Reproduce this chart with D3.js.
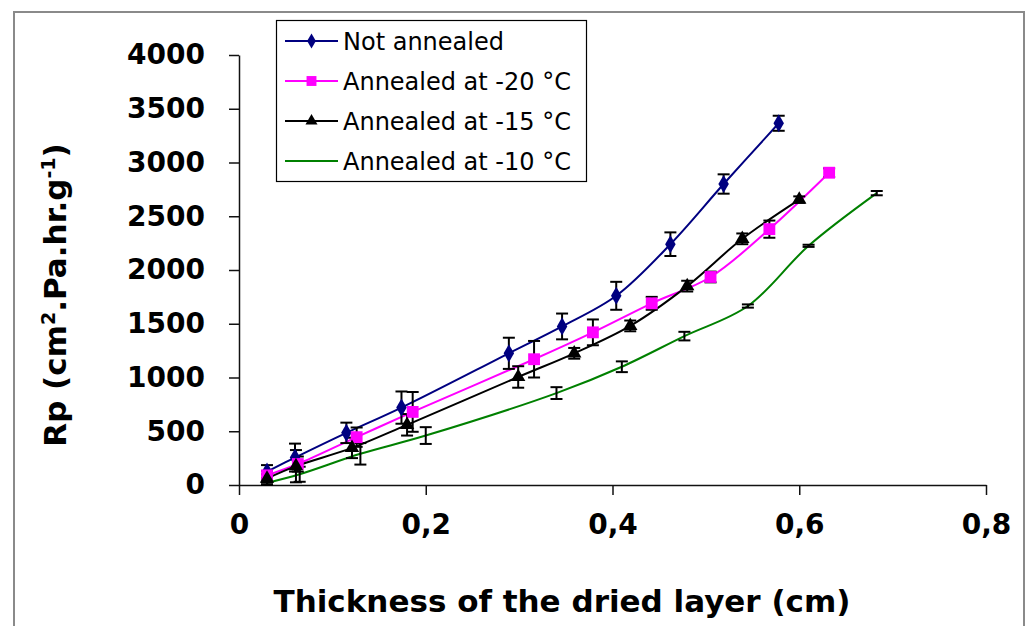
<!DOCTYPE html>
<html>
<head>
<meta charset="utf-8">
<script src="https://cdn.jsdelivr.net/npm/d3@7"></script>
<style>
  body { margin: 0; background: #fff; }
  svg text { font-family: "DejaVu Sans", sans-serif; }
</style>
</head>
<body>
<div class="graphics"></div>
<script>
// values
var seriesNames = ["Not annealed", "Annealed at -20 °C", "Annealed at -15 °C", "Annealed at -10 °C"];

var xNot = [0.03, 0.06, 0.115, 0.174, 0.289, 0.346, 0.404, 0.462, 0.519, 0.578];
var yNot = [125, 255, 485, 720, 1225, 1475, 1760, 2240, 2800, 3365];
var eNot = [60, 130, 95, 150, 145, 120, 130, 110, 90, 70];

var x20 = [0.03, 0.063, 0.126, 0.186, 0.316, 0.379, 0.442, 0.505, 0.568, 0.632];
var y20 = [90, 195, 445, 680, 1170, 1420, 1690, 1935, 2380, 2905];
var e20 = [40, 70, 90, 185, 170, 120, 60, 50, 80, 40];

var x15 = [0.03, 0.061, 0.121, 0.18, 0.299, 0.359, 0.419, 0.48, 0.539, 0.6];
var y15 = [60, 175, 345, 560, 1005, 1225, 1480, 1850, 2290, 2655];
var e15 = [40, 150, 95, 100, 100, 50, 50, 50, 50, 30];

var x10 = [0.03, 0.065, 0.13, 0.2, 0.34, 0.41, 0.477, 0.545, 0.61, 0.683];
var y10 = [20, 100, 290, 460, 855, 1100, 1385, 1665, 2225, 2715];
var e10 = [20, 70, 100, 78, 55, 50, 40, 15, 10, 20];

var xTicks = [0, 0.2, 0.4, 0.6, 0.8];
var yTicks = [0, 500, 1000, 1500, 2000, 2500, 3000, 3500, 4000];

var colors = ["#000080", "#ff00ff", "#000000", "#008000"];
var symbols = [d3.symbolDiamond, d3.symbolSquare, d3.symbolTriangle, null];
var symSize = [95, 140, 90, 0];

var series = [
  {xs: xNot, ys: yNot, es: eNot},
  {xs: x20, ys: y20, es: e20},
  {xs: x15, ys: y15, es: e15},
  {xs: x10, ys: y10, es: e10}
].map(function(s, i){
  s.name = seriesNames[i];
  s.color = colors[i];
  s.points = s.xs.map(function(v, j){ return {x: v, y: s.ys[j], e: s.es[j]}; });
  return s;
});

var w = 1030, h = 626;

var svg = d3.select('.graphics')
    .append('svg')
    .attr("width", w)
    .attr("height", h);

// outer frame
svg.append("rect")
    .attr("x", 14).attr("y", 12)
    .attr("width", 1010).attr("height", 640)
    .attr("fill", "none")
    .attr("stroke", "#8a8a8a")
    .attr("stroke-width", 2);

var x = d3.scaleLinear().domain([0, 0.8]).range([239, 986]);
var y = d3.scaleLinear().domain([0, 4000]).range([485, 55]);

var xAxis = svg.append("g")
    .attr("transform", "translate(0,485)")
    .call(d3.axisBottom(x)
        .tickValues(xTicks)
        .tickSize(10)
        .tickSizeOuter(0)
        .tickPadding(19)
        .tickFormat(function(d){ return d === 0 ? "0" : d.toFixed(1).replace(".", ","); }));

var yAxis = svg.append("g")
    .attr("transform", "translate(239,0)")
    .call(d3.axisLeft(y)
        .tickValues(yTicks)
        .tickSize(10)
        .tickSizeOuter(0)
        .tickPadding(24)
        .tickFormat(d3.format("d")));

[xAxis, yAxis].forEach(function(g){
  g.select(".domain").attr("stroke", "#111").attr("stroke-width", 1.5);
  g.selectAll(".tick line").attr("stroke", "#111").attr("stroke-width", 1.5);
  g.selectAll(".tick text")
      .attr("fill", "#000")
      .style("font-family", "DejaVu Sans")
      .style("font-weight", "bold")
      .style("font-size", "28px");
});

// lines
var line = d3.line()
    .x(function(d){ return x(d.x); })
    .y(function(d){ return y(d.y); })
    .curve(d3.curveCatmullRom.alpha(0.5));

svg.selectAll(".series")
    .data(series)
    .enter()
    .append("path")
    .attr("class", "series")
    .attr("fill", "none")
    .attr("stroke", function(d){ return d.color; })
    .attr("stroke-width", 2)
    .attr("d", function(d){ return line(d.points); });

// error bars
var cap = 6;
series.forEach(function(s){
  var g = svg.append("g").attr("stroke", "#000").attr("stroke-width", 2).attr("fill", "none");
  s.points.forEach(function(p){
    var px = x(p.x), top = y(p.y + p.e), bot = y(p.y - p.e);
    g.append("line").attr("x1", px).attr("x2", px).attr("y1", top).attr("y2", bot);
    g.append("line").attr("x1", px - cap).attr("x2", px + cap).attr("y1", top).attr("y2", top);
    g.append("line").attr("x1", px - cap).attr("x2", px + cap).attr("y1", bot).attr("y2", bot);
  });
});

// markers
series.forEach(function(s, i){
  if (!symbols[i]) return;
  svg.selectAll(".m" + i)
      .data(s.points)
      .enter()
      .append("path")
      .attr("class", "m" + i)
      .attr("d", d3.symbol().type(symbols[i]).size(symSize[i]))
      .attr("transform", function(d){ return "translate(" + x(d.x) + "," + y(d.y) + ")"; })
      .attr("fill", s.color);
});

// axis titles
svg.append("text")
    .attr("x", 562).attr("y", 612)
    .attr("text-anchor", "middle")
    .style("font-weight", "bold")
    .style("font-size", "31px")
    .text("Thickness of the dried layer (cm)");

var yl = svg.append("text")
    .attr("transform", "translate(66,295) rotate(-90)")
    .attr("text-anchor", "middle")
    .style("font-weight", "bold")
    .style("font-size", "31px");
yl.append("tspan").text("Rp (cm");
yl.append("tspan").attr("baseline-shift", "super").style("font-size", "19px").text("2");
yl.append("tspan").text(".Pa.hr.g");
yl.append("tspan").attr("baseline-shift", "super").style("font-size", "19px").text("-1");
yl.append("tspan").text(")");

// legend
var legend = svg.append("g");
legend.append("rect")
    .attr("x", 276.5).attr("y", 20.5)
    .attr("width", 310).attr("height", 161)
    .attr("fill", "#fff")
    .attr("stroke", "#000")
    .attr("stroke-width", 1.2);

var rowY = [41, 81, 121, 161];
series.forEach(function(s, i){
  var ly = rowY[i];
  legend.append("line")
      .attr("x1", 285).attr("x2", 338)
      .attr("y1", ly).attr("y2", ly)
      .attr("stroke", s.color)
      .attr("stroke-width", 2);
  if (symbols[i]) {
    legend.append("path")
        .attr("d", d3.symbol().type(symbols[i]).size(symSize[i] * 0.7))
        .attr("transform", "translate(311.5," + ly + ")")
        .attr("fill", s.color);
  }
  legend.append("text")
      .attr("x", 343).attr("y", ly)
      .attr("dy", "0.36em")
      .style("font-size", "24px")
      .attr("fill", "#000")
      .text(s.name);
});
</script>
</body>
</html>
